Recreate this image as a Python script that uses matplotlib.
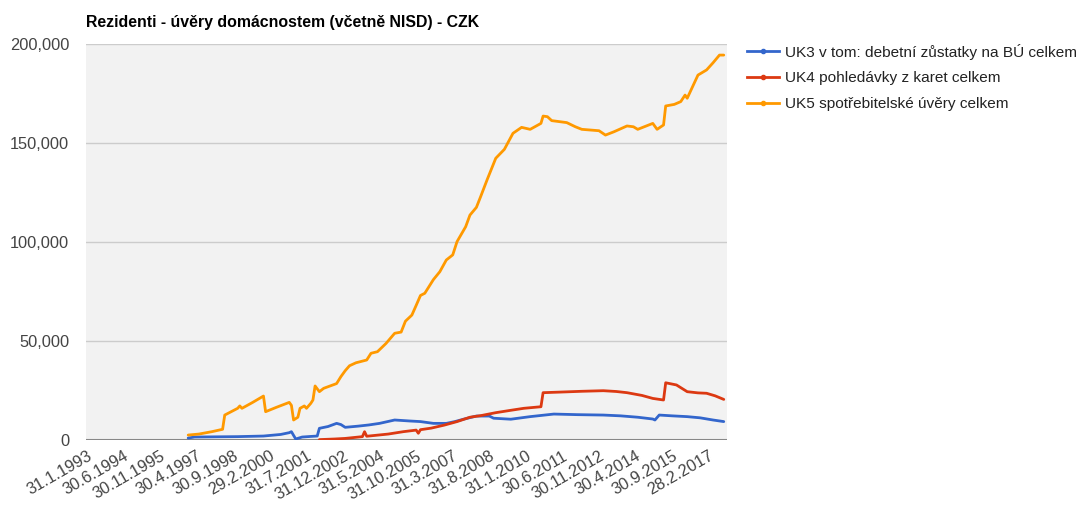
import numpy as np
import pandas as pd
import matplotlib
matplotlib.use("Agg")
from matplotlib import pyplot as plt
from matplotlib.lines import Line2D
from matplotlib.ticker import FuncFormatter

plt.rcParams['font.family'] = ['Liberation Sans', 'DejaVu Sans']

# monthly categories, Jan 1993 .. Oct 2017
months = pd.date_range('1993-01-31', periods=298, freq='ME')
tick_every = 17

# (month index from Jan 1993, value)
uk3_idx = [47, 50, 60, 70, 82, 90, 94, 95, 97, 100, 104, 107, 108, 112, 116, 118, 120,
           126, 131, 136, 143, 150, 155, 161, 167, 171, 175, 181, 187, 189, 197, 206,
           217, 228, 240, 248, 256, 263, 264, 266, 272, 279, 285, 291, 296]
uk3_val = [1000, 1500, 1600, 1700, 2000, 2800, 3700, 4200, 500, 1500, 1800, 2000, 5900, 6800, 8400,
           7800, 6400, 7000, 7600, 8400, 10100, 9600, 9300, 8400, 8400, 9300, 10500, 12100, 12100,
           11000, 10500, 11800, 13100, 12800, 12600, 12200, 11500, 10600, 10100, 12600, 12200,
           11800, 11200, 10100, 9300]

uk4_idx = [108, 115, 120, 128, 129, 130, 140, 147, 153, 154, 155, 160, 166, 172, 178, 183,
           190, 197, 203, 211, 212, 220, 230, 240, 246, 251, 258, 263, 268, 269, 274,
           279, 284, 288, 292, 296]
uk4_val = [200, 500, 800, 1700, 4200, 1900, 3000, 4200, 5000, 3400, 5200, 6000, 7500, 9300,
           11500, 12300, 13800, 15000, 16000, 16800, 23900, 24200, 24600, 24900, 24500,
           23900, 22500, 21000, 20200, 28900, 27800, 24400, 23800, 23600, 22300, 20500]

uk5_idx = [47, 52, 58, 63, 64, 70, 71, 72, 77, 82, 83, 88, 94, 95, 96, 98, 99, 101, 102,
           104, 105, 106, 108, 110, 116, 118, 120, 122, 125, 130, 132, 135, 139, 143, 146,
           148, 151, 153, 155, 157, 161, 164, 167, 170, 172, 176, 178, 181, 183, 186, 190,
           194, 198, 202, 206, 211, 212, 214, 216, 223, 227, 230, 238, 241, 245, 251, 254,
           256, 263, 265, 268, 269, 273, 276, 278, 279, 284, 288, 291, 294, 296]
uk5_val = [2500, 3000, 4200, 5400, 12600, 16000, 17200, 16000, 19000, 22200, 14300, 16500,
           19000, 17500, 10100, 11500, 16000, 17200, 16000, 18500, 20200, 27300, 24400, 26100,
           28500, 32000, 35000, 37500, 39000, 40400, 43800, 44600, 48800, 53900, 54500, 60000,
           63100, 68000, 73000, 74100, 81000, 85000, 90900, 93500, 100200, 107700, 113600,
           117500, 123000, 131500, 142300, 146800, 154900, 157900, 156900, 159900, 163600,
           163300, 161300, 160300, 158200, 156900, 156200, 154000, 155700, 158600, 158200,
           156900, 159900, 156900, 159100, 168700, 169500, 170900, 174200, 172600, 184300,
           186900, 190500, 194400, 194400]

series = [
    ('UK3 v tom: debetní zůstatky na BÚ celkem', uk3_idx, uk3_val, '#3366cc'),
    ('UK4 pohledávky z karet celkem', uk4_idx, uk4_val, '#dc3912'),
    ('UK5 spotřebitelské úvěry celkem', uk5_idx, uk5_val, '#ff9900'),
]

fig = plt.figure(figsize=(10.88, 5.07), dpi=100)
ax = fig.add_axes([86/1088, 1-440/507, 641/1088, 396/507])
ax.set_facecolor('#f2f2f2')

for name, idx, val, col in series:
    ax.plot(idx, val, color=col, lw=2.0, solid_joinstyle='round', solid_capstyle='round')

ax.set_xlim(-0.5, len(months) - 0.5)
ax.set_ylim(0, 200000)
ax.set_yticks([0, 50000, 100000, 150000, 200000])
ax.yaxis.set_major_formatter(FuncFormatter(lambda v, p: f'{int(v):,}'))
ax.grid(axis='y', color='#cccccc', lw=1)
ax.set_axisbelow(True)
ax.axhline(0, color='#888888', lw=1.5, zorder=1)

pos = list(range(0, len(months), tick_every))
ax.set_xticks(pos)
ax.set_xticklabels([f'{m.day}.{m.month}.{m.year}' for m in months[pos]],
                   rotation=30, ha='right', va='top', rotation_mode='anchor')

ax.tick_params(axis='both', length=0, labelsize=11.8, colors='#444444')
ax.tick_params(axis='y', pad=12)
ax.tick_params(axis='x', pad=6)
for s in ax.spines.values():
    s.set_visible(False)

fig.text(86/1088, 1-22/507, 'Rezidenti - úvěry domácnostem (včetně NISD) - CZK',
         fontsize=11.4, fontweight='bold', va='center', ha='left', color='#000000')

handles = [Line2D([], [], color=c, lw=2.0, marker='o', ms=3) for _, _, _, c in series]
fig.legend(handles, [s[0] for s in series], loc='upper left',
           bbox_to_anchor=(733/1088, 1-30/507), frameon=False, fontsize=11.1,
           handlelength=2.1, labelspacing=0.75, handletextpad=0.4, labelcolor='#222222')

fig.savefig('out.png', dpi=100)
